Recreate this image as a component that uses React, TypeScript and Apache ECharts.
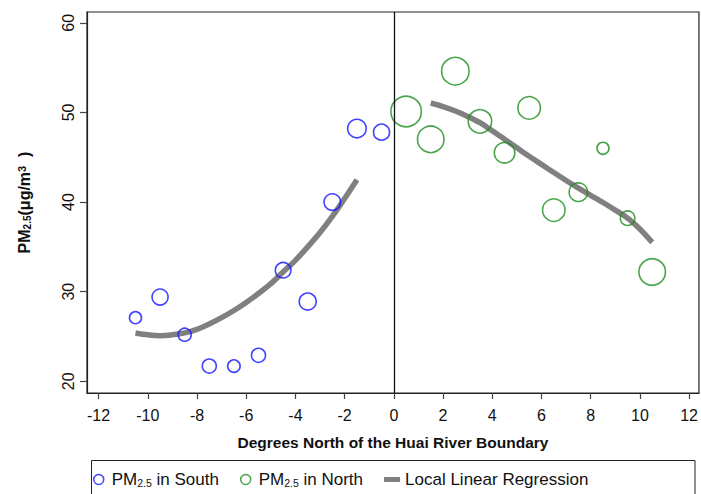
import React, { useEffect, useRef } from 'react';
import * as echarts from 'echarts';

const southX = [-10.5, -9.5, -8.5, -7.5, -6.5, -5.5, -4.5, -3.5, -2.5, -1.5, -0.5];
const southY = [27.1, 29.4, 25.2, 21.7, 21.7, 22.9, 32.4, 28.9, 40.0, 48.2, 47.8];
const southSize = [12, 16, 13, 14, 12.5, 14, 15.5, 17, 16.5, 18.5, 16];

const northX = [0.5, 1.5, 2.5, 3.5, 4.5, 5.5, 6.5, 7.5, 8.5, 9.5, 10.5];
const northY = [50.1, 47.0, 54.6, 49.0, 45.5, 50.5, 39.1, 41.1, 46.0, 38.2, 32.2];
const northSize = [30.5, 26.5, 27.5, 23.5, 20.5, 22.5, 22.5, 18.5, 12, 14.5, 26.5];

const fitSouthX = [-10.5, -10, -9.5, -9, -8.5, -8, -7.5, -7, -6.5, -6, -5.5, -5, -4.5, -4, -3.5, -3, -2.5, -2, -1.5];
const fitSouthY = [25.4, 25.2, 25.1, 25.2, 25.4, 25.8, 26.4, 27.1, 27.9, 28.8, 29.8, 30.9, 32.2, 33.5, 35.0, 36.6, 38.4, 40.4, 42.5];

const fitNorthX = [1.5, 2, 2.5, 3, 3.5, 4, 4.5, 5, 5.5, 6, 6.5, 7, 7.5, 8, 8.5, 9, 9.5, 10, 10.5];
const fitNorthY = [51.05, 50.65, 50.15, 49.55, 48.85, 47.95, 47.0, 46.05, 45.1, 44.2, 43.3, 42.4, 41.55, 40.75, 39.95, 39.1, 38.2, 37.0, 35.5];

const xTicks = [-12, -10, -8, -6, -4, -2, 0, 2, 4, 6, 8, 10, 12];
const yTicks = [20, 30, 40, 50, 60];

const FONT = "'Liberation Sans', Arial, sans-serif";
const BLUE = '#1414ff';
const GREEN = '#1e8c1e';
const GREY = '#808080';

export default function App() {
  const ref = useRef<HTMLDivElement>(null);
  useEffect(() => {
    if (!ref.current) return;
    const chart = echarts.init(ref.current, undefined, { renderer: 'svg' });
    const legendRich = {
      a: { fontFamily: FONT, fontSize: 17, color: '#111' },
      s: { fontFamily: FONT, fontSize: 10.5, color: '#111', verticalAlign: 'bottom', lineHeight: 14 },
    };
    chart.setOption({
      animation: false,
      backgroundColor: '#fff',
      grid: {
        left: 87,
        right: 1,
        top: 12,
        bottom: 101,
        show: true,
        borderColor: '#222',
        borderWidth: 1.2,
        backgroundColor: 'transparent',
      },
      xAxis: {
        type: 'value',
        min: -12.47,
        max: 12.4,
        name: 'Degrees North of the Huai River Boundary',
        nameLocation: 'middle',
        nameGap: 41,
        nameTextStyle: { fontFamily: FONT, fontSize: 15.5, fontWeight: 'bold', color: '#111' },
        axisLine: { show: true, onZero: false, lineStyle: { color: '#222', width: 1.2 } },
        axisTick: { show: true, length: 6, customValues: xTicks, lineStyle: { color: '#444', width: 1.2 } },
        axisLabel: { customValues: xTicks, fontFamily: FONT, fontSize: 16, color: '#111', margin: 14 },
        splitLine: { show: false },
      },
      yAxis: {
        type: 'value',
        min: 18.7,
        max: 61.2,
        name: '{b|PM}{s|2.5}{b|(μg/m}{p|3}{b|  )}',
        nameLocation: 'middle',
        nameRotate: 90,
        nameGap: 55,
        nameTextStyle: {
          fontFamily: FONT,
          fontSize: 16,
          fontWeight: 'bold',
          color: '#111',
          rich: {
            b: { fontFamily: FONT, fontSize: 16, fontWeight: 'bold', color: '#111' },
            s: { fontFamily: FONT, fontSize: 10, fontWeight: 'bold', color: '#111', verticalAlign: 'bottom', lineHeight: 12 },
            p: { fontFamily: FONT, fontSize: 11, fontWeight: 'bold', color: '#111', verticalAlign: 'top', lineHeight: 12 },
          },
        },
        axisLine: { show: true, onZero: false, lineStyle: { color: '#222', width: 1.2 } },
        axisTick: { show: true, length: 7, customValues: yTicks, lineStyle: { color: '#444', width: 1.2 } },
        axisLabel: { customValues: yTicks, rotate: 90, fontFamily: FONT, fontSize: 16, color: '#111', margin: 11 },
        splitLine: { show: false },
      },
      legend: {
        left: 93,
        top: 471,
        itemWidth: 16,
        itemHeight: 10,
        itemGap: 21,
        padding: 0,
        textStyle: { fontFamily: FONT, fontSize: 17, color: '#111', rich: legendRich },
        formatter: (name: string) => {
          if (name === 'South') return '{a|PM}{s|2.5}{a| in South}';
          if (name === 'North') return '{a|PM}{s|2.5}{a| in North}';
          return '{a|' + name + '}';
        },
        data: [
          { name: 'South', icon: 'circle', itemStyle: { color: 'transparent', borderColor: BLUE, borderWidth: 1.5 } },
          { name: 'North', icon: 'circle', itemStyle: { color: 'transparent', borderColor: GREEN, borderWidth: 1.5 } },
          {
            name: 'Local Linear Regression',
            icon: 'path://M0,0 L16,0 L16,5 L0,5 Z',
            itemStyle: { color: GREY, borderWidth: 0 },
          },
        ],
      },
      graphic: [
        {
          type: 'rect',
          shape: { x: 91.5, y: 460.5, width: 603.5, height: 60 },
          style: { fill: 'none', stroke: '#222', lineWidth: 1 },
          silent: true,
        },
      ],
      series: [
        {
          name: 'Local Linear Regression',
          type: 'line',
          data: fitSouthX.map((x, i) => [x, fitSouthY[i]]),
          showSymbol: false,
          symbol: 'none',
          smooth: 0.3,
          lineStyle: { color: GREY, width: 5.5 },
          itemStyle: { color: GREY },
          z: 2,
          markLine: {
            silent: true,
            symbol: ['none', 'none'],
            label: { show: false },
            lineStyle: { color: '#111', type: 'solid', width: 1.3 },
            data: [{ xAxis: 0 }],
          },
        },
        {
          name: 'Local Linear Regression',
          type: 'line',
          data: fitNorthX.map((x, i) => [x, fitNorthY[i]]),
          showSymbol: false,
          symbol: 'none',
          smooth: 0.3,
          lineStyle: { color: GREY, width: 5.5 },
          itemStyle: { color: GREY },
          z: 2,
        },
        {
          name: 'South',
          type: 'scatter',
          data: southX.map((x, i) => [x, southY[i], southSize[i]]),
          symbol: 'circle',
          symbolSize: (v: number[]) => v[2],
          itemStyle: { color: 'transparent', borderColor: BLUE, borderWidth: 1.6 },
          z: 3,
        },
        {
          name: 'North',
          type: 'scatter',
          data: northX.map((x, i) => [x, northY[i], northSize[i]]),
          symbol: 'circle',
          symbolSize: (v: number[]) => v[2],
          itemStyle: { color: 'transparent', borderColor: GREEN, borderWidth: 1.6 },
          z: 3,
        },
      ],
    });
    return () => chart.dispose();
  }, []);
  return <div ref={ref} style={{ position: 'fixed', left: 0, top: 0, width: 701, height: 494, background: '#fff' }} />;
}
